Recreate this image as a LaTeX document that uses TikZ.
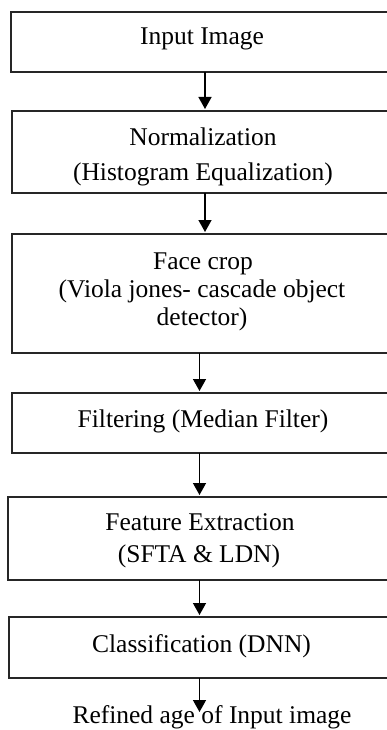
\documentclass[tikz,border=0pt]{standalone}
\usepackage{fontspec}
\setmainfont{Liberation Serif}
\usetikzlibrary{arrows.meta}
\begin{document}
\begin{tikzpicture}[x=1pt,y=-1pt,
  boxline/.style={draw=black!85,line width=1.5pt},
  lbl/.style={anchor=base,inner sep=0pt,font=\fontsize{25.5}{30}\selectfont},
  flow/.style={draw=black,line width=1.4pt,shorten >=2pt,-{Triangle[width=13pt,length=12pt]}}]
\useasboundingbox (0,0) rectangle (387,730);
\clip (0,0) rectangle (387,730);
\fill[white] (0,0) rectangle (387,730);
% boxes
\path[boxline] (11,12) rectangle (395,72);
\coordinate (b1b) at (205,72);
\path[boxline] (12,111) rectangle (395,193);
\coordinate (b2t) at (205,111); \coordinate (b2b) at (205,193);
\path[boxline] (12,234) rectangle (395,353);
\coordinate (b3t) at (205,234); \coordinate (b3b) at (199.5,353);
\path[boxline] (12,393) rectangle (395,453);
\coordinate (b4t) at (199.5,393); \coordinate (b4b) at (199.5,453);
\path[boxline] (8,497) rectangle (395,580);
\coordinate (b5t) at (199.5,497); \coordinate (b5b) at (199.5,580);
\path[boxline] (9,617) rectangle (395,678);
\coordinate (b6t) at (199.5,617); \coordinate (b6b) at (199.5,678);
\coordinate (endpt) at (199.5,714);
% labels
\node[lbl] (t1) at (202,45) {Input Image};
\node[lbl] (t2a) at (203,146) {Normalization};
\node[lbl] (t2b) at (203,181) {(Histogram Equalization)};
\node[lbl] (t3a) at (203,269) {Face crop};
\node[lbl] (t3b) at (202,297) {(Viola jones- cascade object};
\node[lbl] (t3c) at (202,325) {detector)};
\node[lbl] (t4) at (203,427) {Filtering (Median Filter)};
\node[lbl] (t5a) at (200,530) {Feature Extraction};
\node[lbl] (t5b) at (199,562) {(SFTA \& LDN)};
\node[lbl] (t6) at (201.5,652) {Classification (DNN)};
\node[lbl] (out) at (212,723.5) {Refined age of Input image};
% arrows
\draw[flow] (b1b) -- (b2t);
\draw[flow] (b2b) -- (b3t);
\draw[flow] (b3b) -- (b4t);
\draw[flow] (b4b) -- (b5t);
\draw[flow] (b5b) -- (b6t);
\draw[flow] (b6b) -- (endpt);
\end{tikzpicture}
\end{document}
